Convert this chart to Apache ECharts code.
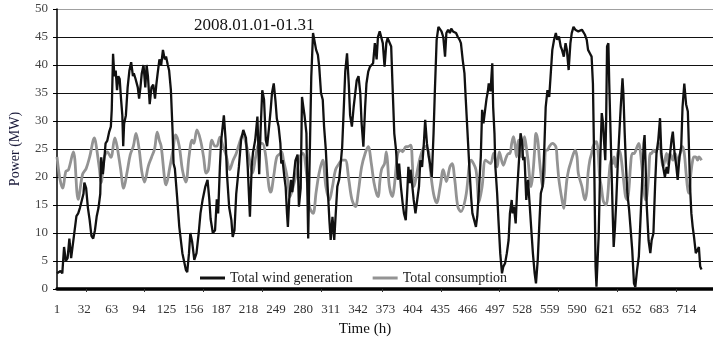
<!DOCTYPE html>
<html>
<head>
<meta charset="utf-8">
<script src="https://cdn.jsdelivr.net/npm/echarts@6/dist/echarts.min.js"></script>
<style>
  html, body { margin: 0; padding: 0; background: #fff; }
  #chart { width: 713px; height: 343px; }
</style>
</head>
<body>
<div id="chart"></div>
<script>
// Hourly power, January 2008 (hour index 1..744)
const windHours = [1,3,5,7,9,11,13,15,17,19,21,23,25,27,29,31,32,34,36,38,40,42,44,46,48,50,51,53,55,56,58,60,62,63,64.5,66,67.5,69,70.5,72,73.5,75,76,77,79,81,83,85,87,88,90,92.5,94,95.5,97,99,101,102.5,104,106,108,110,112,113.5,115,117,119,121,123,124.5,126.5,128,130,132,133,134.5,137,139.5,143,147,148.5,150.5,152,154,156.5,159,161.5,163.5,166,169,171.5,173.5,175,177.5,180,182,183.5,185.5,187,190,192,193.5,196,198.5,200,202,204,207,209.5,212,215,217,219.5,221.5,223,225.5,228,230,231.5,233.5,235.5,237.5,239,241,243,244.5,246.5,248.5,250,252,254,255,256.5,258.5,260,261.5,262.5,264,266,267.5,269.5,271,273.5,275,277,278.5,280,281.5,283.5,285.5,287,289,291,292.5,294.5,296.5,298,300,302,303.5,305.5,307.5,309.5,311,313,315,316.5,318.5,320.5,322,324,326,327.5,329.5,331.5,333,335,337,339,340.5,342.5,344.5,346,348,350,351.5,353.5,355.5,357,359,361,363,364.5,366.5,368.5,370,372,374,375.5,377.5,379.5,381,383,385,387,388.5,390.5,392.5,394,396,398,399,400.5,401.5,403.5,405,407,409,411,412.5,414.5,416.5,418,420,422,423.5,425.5,427.5,429,431,433,434.5,436.5,438.5,440.5,442,444,446,447.5,449.5,451.5,453,455,457,458.5,460.5,462.5,464,466,468,470,471.5,473.5,475.5,477,479,481,482.5,484,485.5,487.5,489,490,492,494,495,496.5,497.5,499.5,501,503,505,506.5,508.5,510.5,512.5,514,516,517,518.5,520.5,522,524.5,526,527.5,529,530.5,532.5,534.5,536,538,540,542,543.5,545.5,547.5,549,551,553,554.5,556.5,558.5,560,562,564,566,567.5,569.5,571.5,573,575,577,578.5,580.5,582.5,584,586,588,590,591.5,593.5,595.5,597,599,601,602.5,604.5,606.5,608,609.5,611,612,614,614.5,615.5,616.5,618,619.5,620.5,622,623,624,625.5,626.5,628,629.5,630.5,631.5,633,634.5,636,637.5,639.5,641.5,642.5,644,645.5,647,649,650.5,652.5,654.5,656,658,660,661.5,663.5,665.5,666.5,667.5,669,671,673,674.5,676.5,678.5,680,682,684,685.5,687.5,689.5,691.5,693,695,697,698.5,700.5,702.5,704,706,708,709.5,711.5,713.5,715.5,716.5,718,719.5,721,722.5,724.5,726.5,728,729.5,731];
const windMW = [2.8,2.5,3.2,2.8,7.5,5,5.5,9,5.5,5.5,10.5,13,13.5,14.5,14.5,17,19,18,14.5,12.3,9.5,9,10.5,13,14.5,17,23.5,20.5,24,26,26.5,28,29,32,42,38,39,35.5,38,37.5,34,31,25.5,29.5,31,36,39,40.5,38,38.5,37.5,36,34,36,38.5,40,36,40,38,33,36,36.5,34,36.5,38.5,41,40,42.7,41,41.5,40,39,35.5,27.8,22.4,21.5,16.5,11.1,6.4,3.4,3,6.4,10,8.5,5.2,6.4,10,13.5,16,18.3,19.5,16,12.5,10,10.5,16,13.5,21.8,26.6,31,26.6,20.5,14.6,12.3,9.3,10.5,17,21.8,26.6,28.4,27,21.8,12.9,21.8,24.4,26.6,30.8,20.5,28,35.5,33.8,26.6,25.5,28.6,32,35,36.7,33.5,30.4,29,26,22.4,23,20,18.2,13.5,11.1,16,19.5,17.3,20.5,22.9,24,14.7,18,34.3,32.5,30.8,27.8,9,21.8,37.9,45.7,46,42.7,41.8,39.7,35,33.8,29,24.8,18.3,12.3,8.75,12.9,8.75,12.9,18.3,19.5,21.8,25.4,33,38.9,42.1,36.5,31,29,32.5,32.5,37.3,38,35,29.6,25.4,32.5,36.7,38.8,39.7,39.7,40.3,43.9,41,45,46,45.7,43.9,39.7,43.9,44.8,44.5,43.3,36.5,27.8,24.8,19.5,22.4,18.3,15.3,13.5,12.3,18.3,21.8,18.9,21.3,18.3,15.9,13.5,15.9,18.3,23,21.8,26,30.2,26,23.6,22.4,20,27.8,35.5,44.5,46.8,46.8,46,45,41.5,45.7,46.3,45.7,46.5,46,46.3,45.7,45,44.5,43.9,40.9,38.5,33.8,27.8,21.8,16.5,13.5,12.3,11.1,13,18,23.6,32,29.6,31.5,34,35.3,36.7,35.3,40.3,32.5,27.8,21.8,17.1,12.3,6.4,2.8,4,4.6,6.4,8.75,13.5,15.9,13.5,14.7,11.7,17.1,23.6,27.8,26.6,23,23.6,15.9,19.5,15.9,11.1,6.4,2.8,1,5.2,12.3,17.1,18.3,25.4,32.5,35.5,34.3,37.9,42.7,44.5,45.7,44.5,45.1,43.3,42.7,41.5,43.9,42.7,39.1,43.9,45.7,46.8,46.3,46.3,46,46.3,46.3,46,45.4,44.5,42.7,42.1,41.5,36.7,22,4,0.4,0.4,9.5,16.5,24.2,31.4,29.6,26.6,23,30.2,43.3,43.9,36.7,27.8,18.9,12.9,7.5,11.1,15.9,21.8,26.6,32.5,37.6,34.9,27.8,21.8,17.1,14.1,11.1,7,1,0.4,3.4,5.8,11.1,18.3,26,27.5,23,14.7,8.7,6.4,8.7,9.9,18.9,24.2,26.6,30.5,24.2,21.8,20,21.8,20.6,23.6,26.6,28.1,24.2,21.8,19.5,23.6,25.4,32.5,36.7,33,31.7,26.6,18.3,13.5,11.1,9.3,6.4,7,7.5,4,3.5];

const loadHours = [1,4.5,7.5,11,14,19.5,25,30,34,38,43.5,45.5,49,51,54.5,58,62,66.5,69,73,76.5,80.5,84,87.5,90.5,94,97,100,104.5,108,111.5,114.5,117,119,123,124.5,128.5,132,135.5,139.5,143,147,150.5,154,156,159.5,163.5,167,170,172.5,176.5,180,182,185.5,189,193,196.5,200.5,204,207.5,211.5,215,218.5,222.5,226,230,233.5,237,241,243,246.5,250,254,255.5,257.5,261.5,265,268.5,272.5,276,279.5,283.5,287,291,294.5,298,302,305.5,309.5,313,316.5,320.5,324,327.5,331.5,335,339,342.5,346,350,353.5,357,360,363,365,366.5,368.5,372,374,375.5,377.5,381,383,387,390.5,392.5,396,398,401.5,403.5,405,412.5,418,422,423.5,427.5,431,435,438.5,442,446,448.5,451.5,455,458.5,464,470,475.5,479,482.5,486.5,492,495.5,499.5,502,506.5,510,512.5,514,516,518,519.5,521.5,523.5,525,527,529,530.5,532.5,534.5,538,540,542,543.5,545.5,547.5,549,551,553,554.5,556.5,558.5,562,566,567.5,569.5,573,575,577,578.5,580.5,582.5,586,588,590,591.5,595.5,599,601,602.5,604.5,606.5,608,612,614,615.5,617.5,619.5,621,623,625,626.5,628.5,630.5,632,634,636,637.5,639.5,641.5,643.5,645,647,649,650.5,652.5,654.5,658,660,661.5,663.5,665.5,667.5,669,671,673,674.5,676.5,678.5,680,682,684,685.5,687.5,689.5,691.5,693,695,697,698.5,700.5,702.5,704,706,708,709.5,711.5,713.5,715.5,717,719,721,722.5,724.5,726.5,728,731];
const loadMW = [23.6,19.5,18,21,21.3,24.5,16,20.5,21.5,23.6,27,25.5,21.5,19,23.5,24.5,23.5,27,25.5,21.5,18,21,24,25.5,27.8,25,21,19.1,22,23.5,25,28,26.5,25.5,19.5,18.6,21.5,24.5,27.5,25.5,21.3,19.1,23.6,26.6,26,28.4,26.6,23.6,20.7,21.3,26.6,25.5,25.5,27.1,25.5,23.6,21.3,23,24.2,26,27.6,26,23.6,20.7,23.6,26,26,24.2,18.3,17.3,20.2,23.6,24.2,24.5,23,20.2,16.5,18.3,20.8,23.6,24.2,20.8,14.7,13.5,17.3,20.8,23,18.3,15.9,18.3,21.3,22.4,23,23,19.5,16,14.7,17.6,21.8,24.2,25.4,22.4,19,17,16.5,18.9,21.3,22.4,24.5,22.4,18.3,16.5,18.3,24.2,24.8,24.5,25.4,25.4,25.7,22.4,18.3,23.6,25.5,24.5,21.8,17,15.4,18.3,21.3,19.2,21.8,22.4,19.5,14.7,13.8,16.5,23,21.3,15.5,18.3,23,22.4,24.2,21.8,24.5,22.1,23.6,24.2,24.2,26,27.2,26,23.6,26.6,25.4,23.6,25.4,27.2,25.4,23,18.3,20.6,24.8,27.8,26.6,23,20.6,18.3,20.6,24.8,24.8,25.4,26,25.4,23,19.5,15.9,14.4,17.1,19.5,21.3,22.4,24.2,24.8,23.6,20.6,18.3,15.9,17.3,20.7,23,24.2,25.4,26.3,24.2,20.2,18.3,15.9,15.3,15,17.1,20.7,23,22.4,23.6,21.8,24.2,24.8,23.9,21.3,18.3,16.5,15.9,18.3,21.8,24.2,24.2,25.4,26,24.8,21.8,18.3,15.9,16.5,20,24.2,24.2,24.8,24.5,24.8,25.4,26,23.6,21.8,23,24.2,22.4,24.2,23.6,23,24.2,23.6,21.8,23.6,24.8,25.4,24.2,20.7,17.7,17.1,20.7,23,23.6,23.6,23,23.6,23];

// Axis ticks and labels (hours)
const hourLabels = [1,32,63,94,125,156,187,218,249,280,311,342,373,404,435,466,497,528,559,590,621,652,683,714];
const hourTicks = [34,100,167,233,300,369,436,502,569,635,702];
const powerMin = 0, powerMax = 50, powerStep = 5;

const seriesNames = ['Total wind generation', 'Total consumption'];
const periodText = '2008.01.01-01.31';

const pairs = (xs, ys) => xs.map((x, i) => [x, ys[i]]);
const serif = 'Liberation Serif, Times New Roman, serif';

// One colour per horizontal grid line; the top one is the light frame edge
const gridColors = [];
for (let v = powerMin; v <= powerMax; v += powerStep) {
  gridColors.push(v === powerMax ? '#a0a0a0' : '#111');
}

const chart = echarts.init(document.getElementById('chart'), null, { renderer: 'canvas' });
chart.setOption({
  animation: false,
  backgroundColor: '#fff',
  title: {
    text: periodText,
    left: 189,
    top: 12,
    textStyle: { fontFamily: serif, fontSize: 17, fontWeight: 'normal', color: '#111' }
  },
  legend: {
    data: [
      { name: seriesNames[0], icon: 'rect' },
      { name: seriesNames[1], icon: 'rect' }
    ],
    left: 195,
    top: 266,
    itemWidth: 25,
    itemHeight: 3,
    itemGap: 20,
    textStyle: { fontFamily: serif, fontSize: 14, color: '#222' }
  },
  grid: { left: 54, top: 9, width: 671, height: 280 },
  xAxis: {
    type: 'value',
    min: 1,
    max: 744,
    name: 'Time (h)',
    nameLocation: 'middle',
    nameGap: 33,
    nameTextStyle: { fontFamily: serif, fontSize: 15, color: '#111', padding: [0, 40, 0, 0] },
    axisLine: { show: true, lineStyle: { color: '#000', width: 3.5 } },
    axisTick: { show: true, customValues: hourTicks, length: 3, lineStyle: { color: '#333', width: 1 } },
    axisLabel: { customValues: hourLabels, margin: 14, fontFamily: serif, fontSize: 13, color: '#333' },
    splitLine: { show: false }
  },
  yAxis: {
    type: 'value',
    min: powerMin,
    max: powerMax,
    interval: powerStep,
    name: 'Power (MW)',
    nameLocation: 'middle',
    nameGap: 35,
    nameTextStyle: { fontFamily: serif, fontSize: 14, color: '#1a1a3a' },
    axisLine: { show: true, lineStyle: { color: '#000', width: 1.5 } },
    axisTick: { show: true, length: 4, lineStyle: { color: '#000', width: 1 } },
    axisLabel: { margin: 9, fontFamily: serif, fontSize: 13, color: '#444' },
    splitLine: { show: true, lineStyle: { color: gridColors, width: 1 } }
  },
  series: [
    {
      name: seriesNames[1],
      type: 'line',
      data: pairs(loadHours, loadMW),
      showSymbol: false,
      symbol: 'none',
      smooth: 0.35,
      z: 2,
      lineStyle: { color: '#939393', width: 2.8 },
      itemStyle: { color: '#939393' }
    },
    {
      name: seriesNames[0],
      type: 'line',
      data: pairs(windHours, windMW),
      showSymbol: false,
      symbol: 'none',
      z: 3,
      lineStyle: { color: '#111', width: 2.3 },
      itemStyle: { color: '#111' }
    }
  ]
});
</script>
</body>
</html>
